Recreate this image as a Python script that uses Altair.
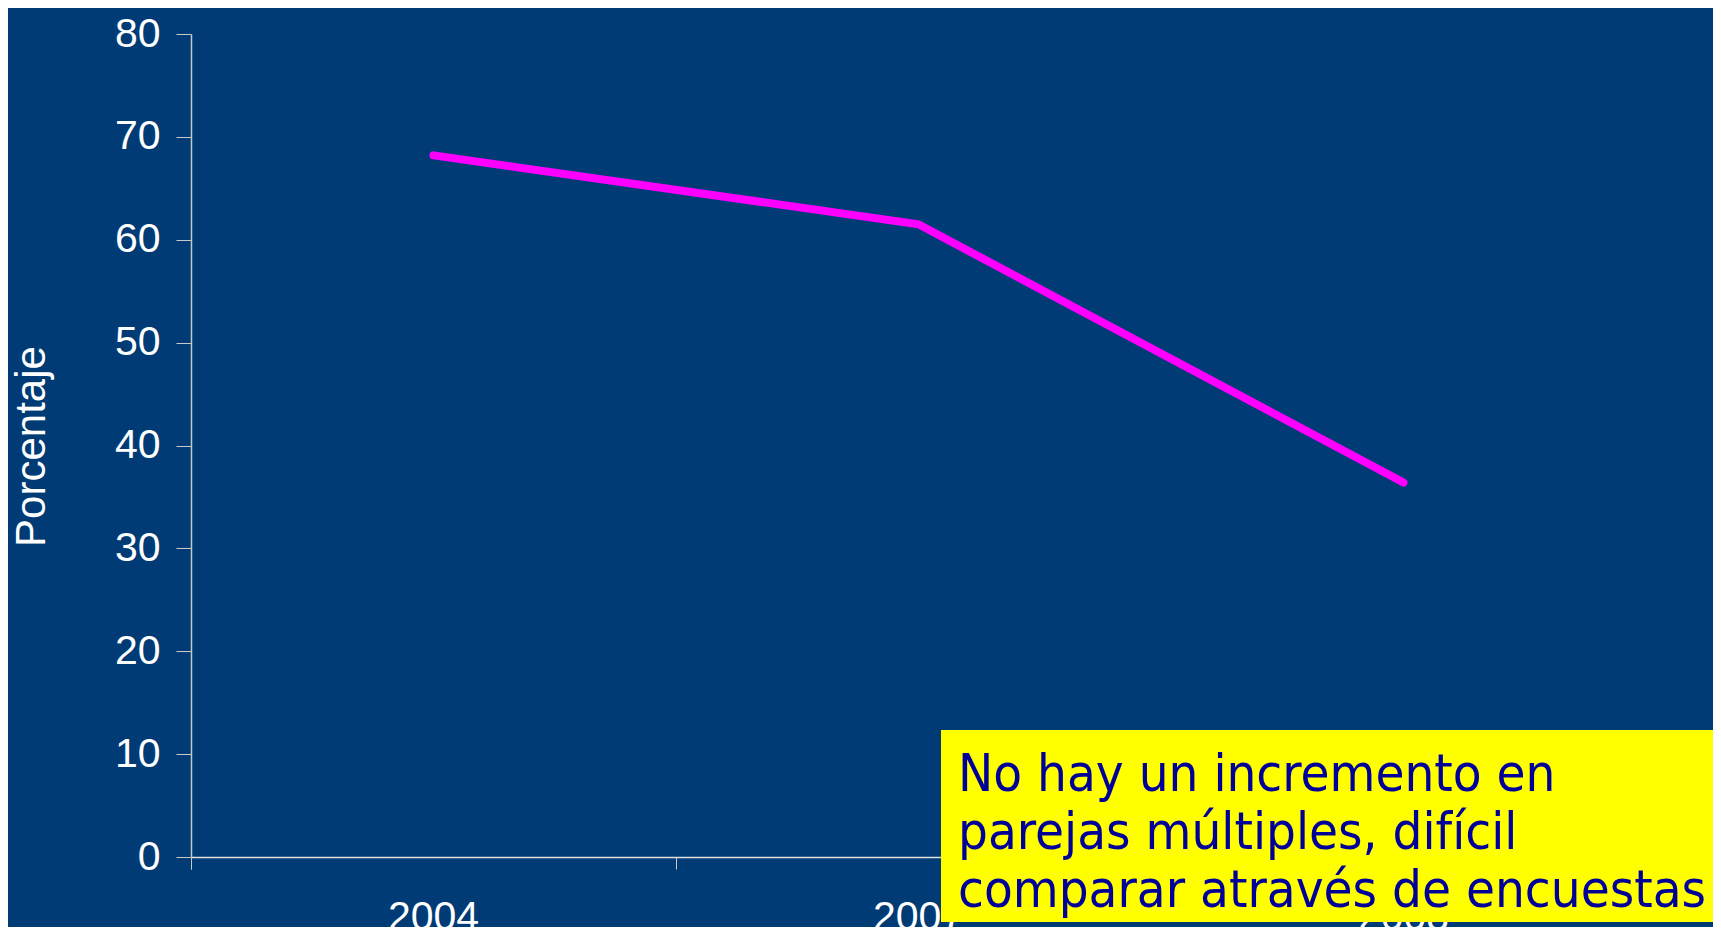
import altair as alt
import pandas as pd

years = ["2004", "2007", "2008"]
values = [68.2, 61.5, 36.4]
note_lines = ["No hay un incremento en", "parejas múltiples, difícil", "comparar através de encuestas"]

df = pd.DataFrame({"Año": years, "Porcentaje": values})

BG = "#003B76"

base = alt.Chart(df)

line = base.mark_line(color="#FF00FF", strokeWidth=8, strokeCap="round", strokeJoin="miter").encode(
    x=alt.X("Año:O", sort=years,
            scale=alt.Scale(type="band", paddingInner=0, paddingOuter=0),
            axis=alt.Axis(title=None, labelAngle=0, bandPosition=0, tickExtra=True,
                          labelFont="Liberation Sans", labelFontSize=41, labelColor="white",
                          labelPadding=28, tickSize=12, tickColor="#C8C8C8",
                          domainColor="#E0E0E0", domainWidth=1.5)),
    y=alt.Y("Porcentaje:Q", scale=alt.Scale(domain=[0, 80], nice=False),
            axis=alt.Axis(values=[0, 10, 20, 30, 40, 50, 60, 70, 80], grid=False,
                          title="Porcentaje", titleFont="Liberation Sans", titleFontSize=42,
                          titleFontWeight="normal", titleColor="white",
                          titleX=-160, titleY=412, titleBaseline="middle", titleAngle=-90,
                          labelFont="Liberation Sans", labelFontSize=41, labelColor="white",
                          labelPadding=16, tickSize=15, tickColor="#C8C8C8",
                          domainColor="#C8C8C8", domainWidth=1.5)),
)

box = alt.Chart(pd.DataFrame({"k": [0]})).mark_rect(color="#FFFF00", clip=False).encode(
    x=alt.value(750), x2=alt.value(1530), y=alt.value(696), y2=alt.value(888)
)

note = alt.Chart(pd.DataFrame({"t": ["\n".join(note_lines)]})).mark_text(
    align="left", baseline="alphabetic", font="DejaVu Sans Condensed", fontSize=52.4,
    color="#000099", lineBreak="\n", lineHeight=58, clip=False
).encode(text="t:N", x=alt.value(767), y=alt.value(757))

chart = alt.layer(line, box, note).properties(
    width=1455, height=823,
    autosize=alt.AutoSizeParams(type="none"),
    padding={"left": 183, "top": 26, "right": 67, "bottom": 70},
    background=BG,
).configure_view(stroke=None)

chart.save("out.html", embed_options={"renderer": "svg", "actions": False})
